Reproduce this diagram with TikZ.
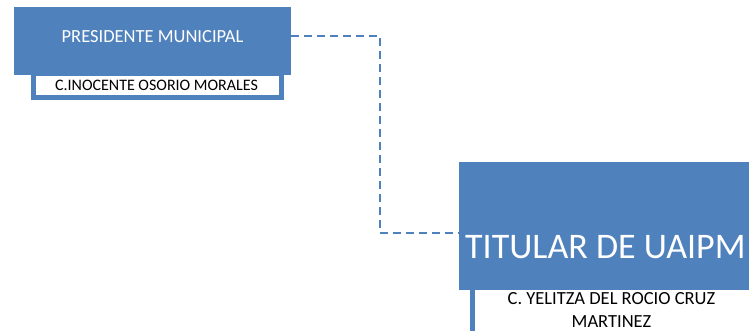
\documentclass[tikz,border=0pt]{standalone}
\usepackage{fontspec}
\setmainfont{Carlito}
\definecolor{azul}{HTML}{4F81BD}

\begin{document}
\begin{tikzpicture}[x=1pt,y=-1pt]
    \tikzset{CargoStyle/.style = {%
        shape= rectangle,
        fill= azul,
        inner sep= 0pt},
      NombreStyle/.style = {%
        shape= rectangle,
        draw= azul,
        line width= 5pt,
        fill= white,
        inner sep= 0pt},
      LineaStyle/.style = {%
        draw= azul,
        line width= 2pt,
        dash pattern= on 8pt off 5pt}}
    \useasboundingbox (0,0) rectangle (749,331);
    % presidente
    \node[CargoStyle,minimum width=277pt,minimum height=68pt] (pres) at (152.5,41) {};
    \node[text=white,font=\fontsize{18.5}{22}\selectfont,anchor=base] (prestxt) at (152.5,43) {PRESIDENTE MUNICIPAL};
    \node[NombreStyle,minimum width=248.5pt,minimum height=24.5pt] (presname) at (157.25,85.75) {};
    \node[font=\fontsize{16}{19}\selectfont,anchor=base] (presnametxt) at (156.5,91) {C.INOCENTE OSORIO MORALES};
    % titular
    \node[CargoStyle,minimum width=310pt,minimum height=128pt] (titular) at (614,226) {};
    \node[text=white,font=\fontsize{36}{40}\selectfont,anchor=base west,inner sep=0pt] (titulartxt) at (465,258) {TITULAR DE UAIPM};
    \node[NombreStyle,minimum width=285pt,minimum height=52pt] (titularname) at (615,313.5) {};
    \node[font=\fontsize{18.5}{22.5}\selectfont,align=center,anchor=base,inner sep=0pt] (titularnametxt) at (611.5,327) {C. YELITZA DEL ROCIO CRUZ\\MARTINEZ};
    % conector
    \coordinate (a) at (pres.east |- 0,36);
    \coordinate (b) at (380,233);
    \draw[LineaStyle] (a) -| (b) -- (b -| titular.west);
\end{tikzpicture}
\end{document}
